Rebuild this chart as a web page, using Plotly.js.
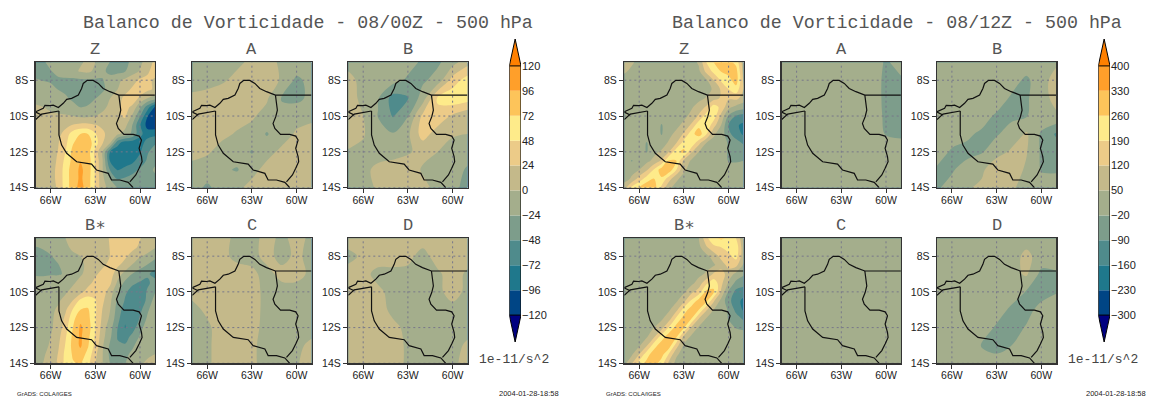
<!DOCTYPE html>
<html><head><meta charset="utf-8">
<script src="https://cdn.plot.ly/plotly-3.0.1.min.js"></script>
<style>html,body{margin:0;padding:0;background:#fff}#c{width:1150px;height:401px}</style>
</head><body><div id="c"></div>
<script>
const lonFine=[-67,-66.5,-66,-65.5,-65,-64.5,-64,-63.5,-63,-62.5,-62,-61.5,-61,-60.5,-60,-59.5,-59];
const latFine=[-7,-7.5,-8,-8.5,-9,-9.5,-10,-10.5,-11,-11.5,-12,-12.5,-13,-13.5,-14];
const lonCoarse=[-67,-66,-65,-64,-63,-62,-61,-60,-59];
const latCoarse=[-7,-8,-9,-10,-11,-12,-13,-14];

const z00_Z=[
[-35,-28,-15,-10,-8,-5,-2,3,0,-8,-25,-26,-28,-20,-5,10,30],
[-32,-30,-26,-15,-8,-5,2,5,-5,-20,-30,-30,-25,-10,2,20,35],
[-22,-25,-28,-30,-30,-30,-28,-28,-28,-25,-15,-5,5,15,28,30,20],
[-10,-12,-15,-25,-30,-32,-32,-32,-30,-28,-15,0,15,28,35,30,20],
[-5,-8,-10,-15,-20,-30,-40,-32,-25,-15,0,15,30,35,20,0,-10],
[2,0,-5,-5,-10,-15,-25,-22,-15,-5,5,20,30,20,-20,-60,-100],
[5,5,5,2,2,0,-5,-5,0,5,10,20,28,-5,-45,-95,-110],
[8,10,10,10,15,25,30,30,25,20,15,15,8,-25,-70,-105,-110],
[8,10,12,15,35,60,72,72,50,28,15,5,-10,-30,-65,-85,-80],
[8,10,12,22,42,70,85,85,60,25,0,-65,-85,-85,-85,-60,-50],
[8,10,12,25,48,80,88,85,40,-2,-72,-85,-85,-85,-75,-50,-40],
[8,10,12,28,55,80,95,88,45,0,-75,-85,-85,-78,-60,-45,-30],
[8,10,15,30,60,85,100,88,45,0,-50,-74,-65,-55,-45,-35,-20],
[8,10,15,30,60,85,100,85,45,5,-25,-50,-45,-40,-35,-30,-30],
[8,10,12,28,60,85,105,85,45,5,-5,-25,-30,-35,-35,-35,-40]];
const z00_A=[
[-8,-8,-6,-3,3,6,-3,-6,-6],
[-6,-5,-2,4,8,8,-2,-30,-15],
[3,5,8,10,10,3,-26,-30,-18],
[8,10,10,8,3,-8,-15,-8,-5],
[10,10,5,-2,-8,-26,-10,3,8],
[5,3,-8,-12,-26,-8,5,10,12],
[-5,-12,-20,-26,-8,8,12,12,12],
[-15,-28,-15,-5,8,12,12,12,12]];
const z00_B=[
[-5,-8,-10,-10,-15,-28,-28,-10,15],
[5,-5,-10,-15,-28,-28,-15,35,60],
[8,-5,-22,-58,-50,-12,52,65,60],
[10,0,-25,-50,-25,30,40,20,5],
[10,2,-15,-22,-5,35,12,2,0],
[-2,-5,-8,-8,-2,5,0,-8,-10],
[-5,-5,5,10,10,-2,-5,-10,-28],
[-10,-8,3,8,8,5,-5,-15,-35]];
const z00_Bs=[
[-10,-8,-5,-2,0,5,8,10,15,20,25,30,35,35,25,15,10],
[-25,-22,-15,-8,-2,2,5,8,12,15,25,32,35,30,20,10,2],
[-30,-30,-26,-15,-5,-2,0,2,5,10,25,30,28,15,2,-5,-15],
[-32,-32,-30,-26,-10,-5,-2,2,8,20,30,28,15,-2,-15,-25,-40],
[-28,-28,-26,-26,-22,-8,-2,5,20,32,35,10,-8,-25,-35,-45,-55],
[-10,-12,-12,-12,-8,-2,5,15,32,38,28,-5,-30,-45,-50,-52,-40],
[-8,-8,-5,-5,-2,5,15,35,40,35,12,-20,-45,-55,-65,-45,-25],
[-5,-5,-5,-2,5,25,55,60,50,28,5,-30,-50,-62,-70,-40,-15],
[-5,-5,-3,2,20,50,72,75,52,22,0,-35,-60,-70,-55,-28,-8],
[-5,-5,-3,5,30,65,90,80,50,18,-5,-40,-70,-72,-45,-20,-5],
[-8,-5,-3,8,38,72,100,85,50,12,-15,-48,-73,-60,-32,-12,-5],
[-8,-5,0,15,45,78,100,80,45,8,-20,-50,-60,-40,-22,-8,-3],
[-8,-5,2,20,50,80,100,75,40,2,-28,-45,-45,-28,-12,-5,-2],
[-5,-2,5,25,55,75,85,65,30,0,-30,-45,-30,-18,-5,-2,0],
[-3,0,8,28,55,70,75,55,25,0,-25,-40,-25,-10,-2,2,5]];
const z00_C=[
[3,3,4,-3,-3,3,-2,3,-2],
[5,5,3,-3,-3,3,-3,2,-3],
[5,5,5,5,2,-3,3,3,-2],
[3,5,5,5,4,-3,-4,-4,-4],
[-3,2,5,5,4,-3,-5,-5,-5],
[-4,-2,5,5,3,-3,-5,-5,-5],
[-4,-2,5,5,2,-4,-4,-3,3],
[-4,-2,5,5,2,-4,-4,-1,5]];
const z00_D=[
[5,5,5,5,5,5,5,5,5],
[-3,2,5,5,3,-4,5,5,5],
[4,3,-3,-3,-3,-3,-2,5,-2],
[5,5,2,-3,-4,-4,-3,5,-3],
[5,5,5,-3,-4,-5,-5,-4,-4],
[5,5,5,3,-3,-5,-5,-5,-4],
[5,5,5,5,-2,-5,-5,-4,2],
[5,5,5,5,-2,-5,-5,-3,5]];

const z12_Z=[
[80,60,30,25,25,25,25,25,25,25,60,190,260,335,280,240,80],
[60,35,25,25,25,25,25,25,25,25,35,140,210,265,290,290,90],
[25,25,25,25,25,25,25,25,25,25,25,40,120,200,230,300,110],
[25,25,25,25,25,25,25,25,25,25,25,25,60,130,190,230,120],
[25,25,25,25,25,25,25,25,25,25,30,55,90,130,130,140,90],
[25,25,25,25,25,25,25,25,25,40,80,130,225,170,70,30,10],
[25,25,25,25,25,25,25,25,30,70,130,220,230,100,-30,-95,-120],
[25,25,25,25,25,-25,25,30,70,130,240,250,150,50,-90,-150,-175],
[25,25,25,25,25,-25,30,70,130,230,300,200,60,20,-70,-130,-170],
[25,25,25,-25,25,20,60,120,220,250,140,50,30,25,-30,-60,-100],
[25,25,25,-25,30,60,120,240,280,130,50,30,30,20,-30,-50,-40],
[25,-25,20,30,70,130,270,260,100,40,25,25,25,25,-25,-30,-20],
[25,30,50,110,200,300,310,190,60,30,25,25,25,25,25,25,25],
[20,60,150,220,260,250,150,60,30,25,25,25,25,25,25,25,25],
[90,210,270,320,300,170,60,30,25,25,25,25,25,25,25,25,25]];
const z12_A=[
[25,25,25,25,25,25,25,-30,10],
[25,25,25,25,25,25,25,-40,-30],
[25,25,25,25,25,25,25,-40,-40],
[25,25,25,25,25,25,25,-35,-40],
[25,25,25,25,25,25,25,-25,-35],
[25,25,25,25,25,25,25,25,25],
[25,25,25,25,25,25,25,25,25],
[25,25,25,25,25,25,25,25,25]];
const z12_B=[
[25,25,25,25,25,25,25,25,40],
[25,25,25,25,25,10,-35,25,75],
[25,25,25,25,15,-30,-30,25,70],
[25,25,20,5,-30,-30,-25,25,40],
[25,15,-10,-30,-25,0,60,-30,-100],
[15,-30,-35,-25,10,65,55,-30,-50],
[-30,-25,0,30,125,85,40,-25,-30],
[-25,-5,40,70,70,60,25,10,20]];
const z12_Bs=[
[25,25,25,25,25,25,25,25,25,25,50,170,250,270,250,190,60],
[25,25,25,25,25,25,25,25,25,25,30,110,170,190,220,240,70],
[25,25,25,25,25,25,25,25,25,25,25,30,80,140,170,220,70],
[25,25,25,25,25,25,25,25,25,25,25,25,40,90,140,140,40],
[25,25,25,25,25,25,25,25,25,25,30,60,130,150,90,30,-10],
[25,25,25,25,25,25,25,25,25,30,80,170,240,140,40,-40,-60],
[25,25,25,25,25,25,25,25,40,100,150,280,270,110,-30,-110,-130],
[25,25,25,25,25,25,25,40,100,200,290,280,130,30,-70,-130,-180],
[25,25,25,25,25,25,40,100,220,300,260,130,50,25,-30,-110,-170],
[25,25,25,25,25,40,90,210,290,260,120,45,25,25,-25,-60,-100],
[25,25,25,25,50,90,200,290,270,110,40,25,25,25,10,-25,-40],
[25,25,25,40,110,220,300,270,100,40,25,25,25,25,25,25,25],
[25,25,40,110,230,300,300,150,40,25,25,25,25,25,25,25,25],
[25,40,120,230,300,290,180,60,25,25,25,25,25,25,25,25,25],
[30,110,220,280,300,220,100,30,25,25,25,25,25,25,25,25,25]];
const z12_C=[
[25,25,25,25,25,25,25,25,25],
[25,25,25,25,25,25,25,25,25],
[25,25,25,25,25,25,25,25,25],
[25,25,25,25,25,25,25,25,25],
[25,25,25,25,25,25,25,25,25],
[25,25,25,25,25,25,25,25,25],
[25,25,25,25,25,25,25,25,25],
[25,25,25,25,25,25,25,25,25]];
const z12_D=[
[25,25,25,25,25,25,25,25,25],
[25,25,25,25,25,25,65,25,25],
[25,25,25,25,25,25,60,-40,-30],
[25,25,25,25,25,20,-25,-45,-25],
[25,25,25,25,15,-35,-40,0,25],
[25,25,25,20,-30,-45,-15,25,25],
[25,25,25,-25,-45,-20,25,25,25],
[25,25,25,15,10,25,25,25,25]];

const borderLon=[-67,-66.82,-66.49,-66.38,-66.04,-65.82,-65.48,-65.15,-64.92,-64.59,-64.14,-63.92,-63.81,-63.54,-63.14,-62.8,-62.47,-62.02,-61.42,-59,null,
 -61.42,-61.35,-61.29,-61.4,-61.58,-61.46,-61.08,-60.46,-60.06,-59.9,-60.06,-59.9,-59.86,-60.06,-60.28,-60.68,null,
 -65.44,-65.42,-65.44,-65.26,-64.92,-64.25,-63.25,-62.92,-62.13,-61.91,-61.35,-60.79,-60.46,null,
 -67,-66.6,-65.44,null,-67,-66.6];
const borderLat=[-9.76,-9.7,-9.57,-9.4,-9.42,-9.39,-9.52,-9.29,-9.07,-9.01,-8.83,-8.46,-8.18,-8.01,-8.01,-8.18,-8.46,-8.64,-8.83,-8.83,null,
 -8.83,-9.29,-9.67,-10.04,-10.41,-10.69,-11.02,-11.02,-11.12,-11.34,-11.8,-12.27,-12.55,-12.92,-13.29,-13.67,null,
 -9.72,-10.32,-11.06,-11.62,-12.08,-12.55,-12.68,-13.01,-13.2,-13.57,-13.57,-13.7,-14,null,
 -10.19,-9.89,-9.72,null,-9.78,-9.94];

const binColors=['#000080','#004585','#1f788c','#4f8b8c','#7d9d8b','#a4ae8c','#c4b98a','#eccb88','#feeb8a','#fdc45a','#ff9f2a','#ff8000'];
const levels00=[-120,-96,-72,-48,-24,0,24,48,72,96,120];
const levels12=[-300,-230,-160,-90,-20,50,120,190,260,330,400];
const lonTicks=[-66,-63,-60], lonLabels=['66W','63W','60W'];
const latTicks=[-14,-12,-10,-8], latLabels=['14S','12S','10S','8S'];
const panelNames=['Z','A','B','B∗','C','D'];
const titles=['Balanco de Vorticidade - 08/00Z - 500 hPa','Balanco de Vorticidade - 08/12Z - 500 hPa'];
const unitLabel='1e-11/s^2', footerLeft='GrADS: COLA/IGES', footerRight='2004-01-28-18:58';

const fields=[[z00_Z,z00_A,z00_B,z00_Bs,z00_C,z00_D],[z12_Z,z12_A,z12_B,z12_Bs,z12_C,z12_D]];
const W=1150,H=401;
const colX=[[35.7,192.3,348.3],[624.3,781.7,937]], panelW=119.2;
const rowY=[62.3,238.3], panelH=[125.4,125];
const barX=[509.3,1098.3], barW=11.7, barTop=39, barBot=342;
const MONO='"Liberation Mono",monospace', SANS='"Liberation Sans",sans-serif';
const tickFont={family:SANS,size:10.5,color:'#222'};
const cs=binColors.map((c,i)=>[i/(binColors.length-1),c]);

const traces=[], layout={width:W,height:H,autosize:false,margin:{l:0,r:0,t:0,b:0},paper_bgcolor:'#fff',plot_bgcolor:'#fff',showlegend:false,annotations:[]};
function ann(text,x,y,size,anchor,family,color){layout.annotations.push({text,xref:'paper',yref:'paper',x:x/W,y:1-y/H,xanchor:anchor||'center',yanchor:'middle',showarrow:false,font:{family:family||MONO,size,color:color||'#333'}});}
let n=0;
for(let s=0;s<2;s++){
  const lv=s?levels12:levels00, step=lv[1]-lv[0];
  for(let p=0;p<6;p++){
    n++;
    const r=p<3?0:1,c=p%3,x0=colX[s][c],y0=rowY[r];
    const xa='x'+n,ya='y'+n,z=fields[s][p],fine=z.length===latFine.length;
    traces.push({type:'contour',x:fine?lonFine:lonCoarse,y:fine?latFine:latCoarse,z,xaxis:xa,yaxis:ya,showscale:false,hoverinfo:'skip',
      colorscale:cs,autocontour:false,contours:{coloring:'fill',start:lv[0],end:lv[lv.length-1],size:step,showlines:false},line:{width:0,smoothing:1}});
    const gx=[],gy=[];
    lonTicks.forEach(t=>gx.push(t,t,null)); lonTicks.forEach(()=>gy.push(-14,-7,null));
    latTicks.forEach(t=>{gx.push(-67,-59,null);gy.push(t,t,null);});
    traces.push({type:'scatter',mode:'lines',x:gx,y:gy,xaxis:xa,yaxis:ya,hoverinfo:'skip',line:{color:'#77778a',width:1,dash:'2px,3px'}});
    traces.push({type:'scatter',mode:'lines',x:borderLon,y:borderLat,xaxis:xa,yaxis:ya,hoverinfo:'skip',connectgaps:false,line:{color:'#111',width:1.2}});
    layout['xaxis'+n]={domain:[x0/W,(x0+panelW)/W],range:[-67,-59],anchor:ya,tickmode:'array',tickvals:lonTicks,ticktext:lonLabels,ticks:'outside',ticklen:4,tickcolor:'#333',tickfont:tickFont,ticklabelstandoff:-2,showgrid:false,zeroline:false,showline:true,mirror:true,linecolor:'#333',linewidth:1.4,layer:'above traces',fixedrange:true};
    layout['yaxis'+n]={domain:[1-(y0+panelH[r])/H,1-y0/H],range:[-14,-7],anchor:xa,tickmode:'array',tickvals:latTicks,ticktext:latLabels,ticks:'outside',ticklen:4,tickcolor:'#333',tickfont:tickFont,showgrid:false,zeroline:false,showline:true,mirror:true,linecolor:'#333',linewidth:1.4,layer:'above traces',fixedrange:true};
    ann(panelNames[p],x0+panelW/2,y0-13,17,'center',MONO,'#555');
  }
  n++;
  const xa='x'+n,ya='y'+n,lo=lv[0],hi=lv[lv.length-1],ext=step*1.08;
  traces.push({type:'bar',x:lv.slice(0,-1).map(()=>0.5),y:lv.slice(0,-1).map(()=>step),base:lv.slice(0,-1),width:1,xaxis:xa,yaxis:ya,hoverinfo:'skip',marker:{color:binColors.slice(1,-1),line:{width:0}}});
  traces.push({type:'scatter',mode:'lines',x:[0,0.5,1,0],y:[hi,hi+ext,hi,hi],fill:'toself',fillcolor:binColors[11],xaxis:xa,yaxis:ya,hoverinfo:'skip',line:{color:'#000',width:1}});
  traces.push({type:'scatter',mode:'lines',x:[0,0.5,1,0],y:[lo,lo-ext,lo,lo],fill:'toself',fillcolor:binColors[0],xaxis:xa,yaxis:ya,hoverinfo:'skip',line:{color:'#000',width:1}});
  traces.push({type:'scatter',mode:'lines',x:[0,0,null,1,1],y:[lo,hi,null,lo,hi],xaxis:xa,yaxis:ya,hoverinfo:'skip',line:{color:'#111',width:1.2}});
  layout['xaxis'+n]={domain:[barX[s]/W,(barX[s]+barW)/W],range:[0,1],anchor:ya,visible:false,fixedrange:true};
  layout['yaxis'+n]={domain:[1-barBot/H,1-barTop/H],range:[lo-ext,hi+ext],anchor:xa,side:'right',tickmode:'array',tickvals:lv,ticktext:lv.map(v=>v<0?'−'+(-v):''+v),ticks:'',tickfont:{family:SANS,size:11,color:'#222'},showgrid:false,zeroline:false,showline:false,fixedrange:true};
  ann(titles[s],s?897:308,23,18.3,'center',MONO,'#555');
  ann(unitLabel,s?1103:514,359,13,'center',MONO,'#444');
  ann(footerLeft,s?604:15,394,6,'left',SANS,'#222');
  ann(footerRight,s?1148:561,393,7.5,'right',SANS,'#222');
}
layout.barmode='overlay';
Plotly.newPlot('c',traces,layout,{displayModeBar:false,staticPlot:true});
</script></body></html>
